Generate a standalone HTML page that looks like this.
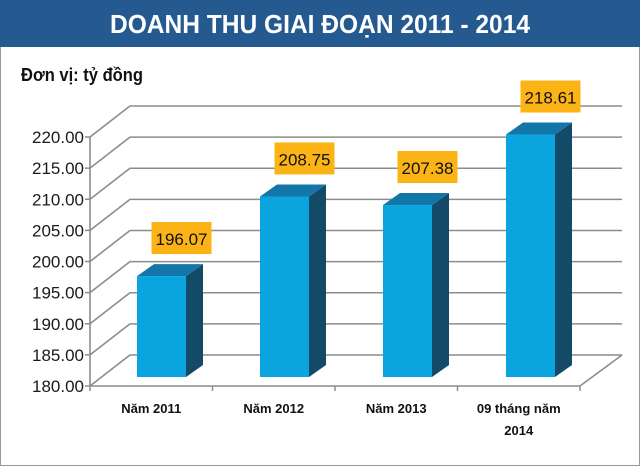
<!DOCTYPE html>
<html><head><meta charset="utf-8"><style>
html,body{margin:0;padding:0;background:#fff;}
#wrap{position:relative;width:640px;height:466px;overflow:hidden;background:#fff;font-family:"Liberation Sans",sans-serif;}
</style></head><body>
<div id="wrap">
<svg id="chart" width="640" height="466" viewBox="0 0 640 466" xmlns="http://www.w3.org/2000/svg">
<rect x="0.5" y="40" width="639" height="425.5" fill="#fff" stroke="#9a9a9a"/>
<rect x="0" y="0" width="640" height="47" fill="#255a91"/>
<text x="320" y="33" text-anchor="middle" fill="#fff" font-weight="bold" font-size="26" textLength="420" lengthAdjust="spacingAndGlyphs">DOANH THU GIAI ĐOẠN 2011 - 2014</text>
<text x="21" y="81" fill="#111" font-weight="bold" font-size="18" textLength="122" lengthAdjust="spacingAndGlyphs">Đơn vị: tỷ đồng</text>
<g id="grid"></g><g id="bars"></g><g id="labels"></g>
</svg>
</div>
<script>
const categories = ["Năm 2011", "Năm 2012", "Năm 2013", "09 tháng năm|2014"];
const values = [196.07, 208.75, 207.38, 218.61];
const valueLabels = ["196.07", "208.75", "207.38", "218.61"];
const yTicks = [180, 185, 190, 195, 200, 205, 210, 215, 220];
const yTickLabels = ["180.00","185.00","190.00","195.00","200.00","205.00","210.00","215.00","220.00"];

const NS = "http://www.w3.org/2000/svg";
const yMin = 180, yMax = 220;
const frontX0 = 90, frontX1 = 580, frontY0 = 386, frontY1 = 137;
const DX = 40, DY = -31;
function yFront(v){ return frontY0 - (v - yMin) / (yMax - yMin) * (frontY0 - frontY1); }
const barBase = 377, barScale = 6.28;
function yBar(v){ return barBase - (v - yMin) * barScale; }
function xBar(i){ return 137 + i * 123; }
function mk(tag, attrs, parent){ const e=document.createElementNS(NS,tag); for(const k in attrs) e.setAttribute(k,attrs[k]); parent.appendChild(e); return e; }

const grid = document.getElementById('grid');
yTicks.forEach((t,i)=>{
  const y = yFront(t);
  const l = mk('polyline',{points:`${frontX0},${y} ${frontX0+DX},${y+DY} 622,${y+DY}`,fill:'none',stroke:'#8c8c8c','stroke-width':1.6},grid);
  
  
  const tk = mk('line',{x1:frontX0-5,y1:y,x2:frontX0,y2:y,stroke:'#8c8c8c','stroke-width':1.5},grid);
  
  
  const tx = mk('text',{x:84,y:y+6,'text-anchor':'end','font-size':17,fill:'#1a1a1a'},grid);
  tx.textContent = yTickLabels[i];
  
  
});
const ax = mk('line',{x1:frontX0,y1:frontY0,x2:frontX0,y2:frontY1,stroke:'#8c8c8c','stroke-width':1.6},grid);


const fl = mk('polyline',{points:`${frontX0},${frontY0} ${frontX1},${frontY0} 622,${frontY0+DY}`,fill:'none',stroke:'#8c8c8c','stroke-width':1.6},grid);


for(let i=0;i<=categories.length;i++){
  const x = frontX0 + i*(frontX1-frontX0)/categories.length;
  const t = mk('line',{x1:x,y1:frontY0,x2:x,y2:frontY0+5,stroke:'#8c8c8c','stroke-width':1.5},grid);
  
  
}

const bars = document.getElementById('bars'), labels = document.getElementById('labels');
const bw = 49, dd = 17, dh = -12;
values.forEach((v,i)=>{
  const x = xBar(i), y = yBar(v);
  const g = mk('g',{},bars);
  
  
  mk('polygon',{points:`${x+bw},${y} ${x+bw+dd},${y+dh} ${x+bw+dd},${barBase+dh} ${x+bw},${barBase}`,fill:'#134a68'},g);
  mk('polygon',{points:`${x},${y} ${x+dd},${y+dh} ${x+bw+dd},${y+dh} ${x+bw},${y}`,fill:'#1277a8'},g);
  mk('rect',{x:x,y:y,width:bw,height:barBase-y,fill:'#0aa4de'},g);
  const cx = x + bw/2 + 20;
  const lb = mk('g',{},labels);
  
  
  mk('rect',{x:cx-30,y:y-54,width:60,height:32,fill:'#fbb315'},lb);
  const t = mk('text',{x:cx,y:y-31,'text-anchor':'middle','font-size':17,fill:'#111'},lb);
  t.textContent = valueLabels[i];
  const parts = categories[i].split('|');
  const cxl = frontX0 + (i+0.5)*(frontX1-frontX0)/categories.length;
  parts.forEach((p,j)=>{
    const c = mk('text',{x:cxl,y:413+j*22,'text-anchor':'middle','font-size':13,'font-weight':'bold',fill:'#111'},labels);
    c.textContent = p;
    
    
  });
});
</script>
</body></html>
